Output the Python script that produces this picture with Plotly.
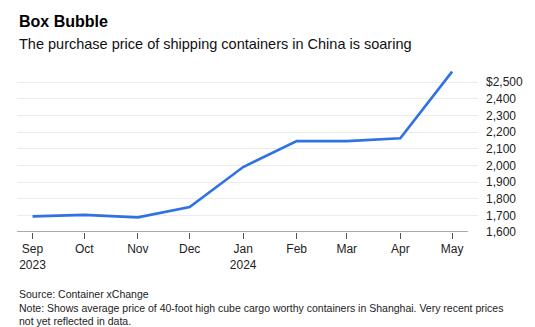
import plotly.graph_objects as go

dates = ["2023-09-01", "2023-10-01", "2023-11-01", "2023-12-01", "2024-01-01",
         "2024-02-01", "2024-03-01", "2024-04-01", "2024-05-01"]
prices = [1694, 1703, 1688, 1750, 1990, 2146, 2145, 2162, 2562]

x_tickvals = dates
x_ticktext = ["Sep<br>2023", "Oct", "Nov", "Dec", "Jan<br>2024", "Feb", "Mar", "Apr", "May"]
y_tickvals = [1600, 1700, 1800, 1900, 2000, 2100, 2200, 2300, 2400, 2500]
y_ticktext = ["1,600", "1,700", "1,800", "1,900", "2,000", "2,100", "2,200", "2,300", "2,400", "$2,500"]

FONT = "Liberation Sans, Arial, Helvetica, sans-serif"
W, H = 535, 327
L, R, T, B = 17, 53, 62, 95
plot_h = H - T - B

def py(pix):
    return (H - B - pix) / plot_h

fig = go.Figure()
fig.add_trace(go.Scatter(x=dates, y=prices, mode="lines",
                         line=dict(color="#2f72e4", width=2.6), hoverinfo="skip"))

fig.update_layout(
    width=W, height=H, margin=dict(l=L, r=R, t=T, b=B),
    paper_bgcolor="white", plot_bgcolor="white", showlegend=False,
    font=dict(family=FONT, color="#222222"),
    xaxis=dict(type="date", range=["2023-08-23", "2024-05-16"],
               tickvals=x_tickvals, ticktext=x_ticktext,
               showgrid=False, zeroline=False, showline=False,
               ticks="outside", ticklen=6, tickwidth=1, tickcolor="#555555",
               tickfont=dict(size=12, color="#222222")),
    yaxis=dict(range=[1600, 2620], side="right", tickvals=y_tickvals, ticktext=y_ticktext,
               showgrid=True, gridcolor="#ececec", gridwidth=1, zeroline=False,
               showline=False, ticks="", ticklabelstandoff=7,
               tickfont=dict(size=12, color="#222222")),
)

# bottom axis line (stops short of the right edge)
fig.add_shape(type="line", xref="paper", yref="y", x0=0, x1=(472 - L) / (W - L - R),
              y0=1600, y1=1600, line=dict(color="#555555", width=1.2))

fig.add_annotation(text="<b>Box Bubble</b>", xref="paper", yref="paper",
                   x=0, y=py(11), xanchor="left", yanchor="top", showarrow=False,
                   font=dict(size=16, color="#000000"))
fig.add_annotation(text="The purchase price of shipping containers in China is soaring",
                   xref="paper", yref="paper", x=0, y=py(34), xanchor="left", yanchor="top",
                   showarrow=False, font=dict(size=14.5, color="#111111"))
fig.add_annotation(text="Source: Container xChange<br>Note: Shows average price of 40-foot high cube cargo worthy containers in Shanghai. Very recent prices<br>not yet reflected in data.",
                   xref="paper", yref="paper", x=0, y=py(286), xanchor="left", yanchor="top",
                   align="left", showarrow=False, font=dict(size=10.5, color="#222222"))

fig.write_html("out.html")
